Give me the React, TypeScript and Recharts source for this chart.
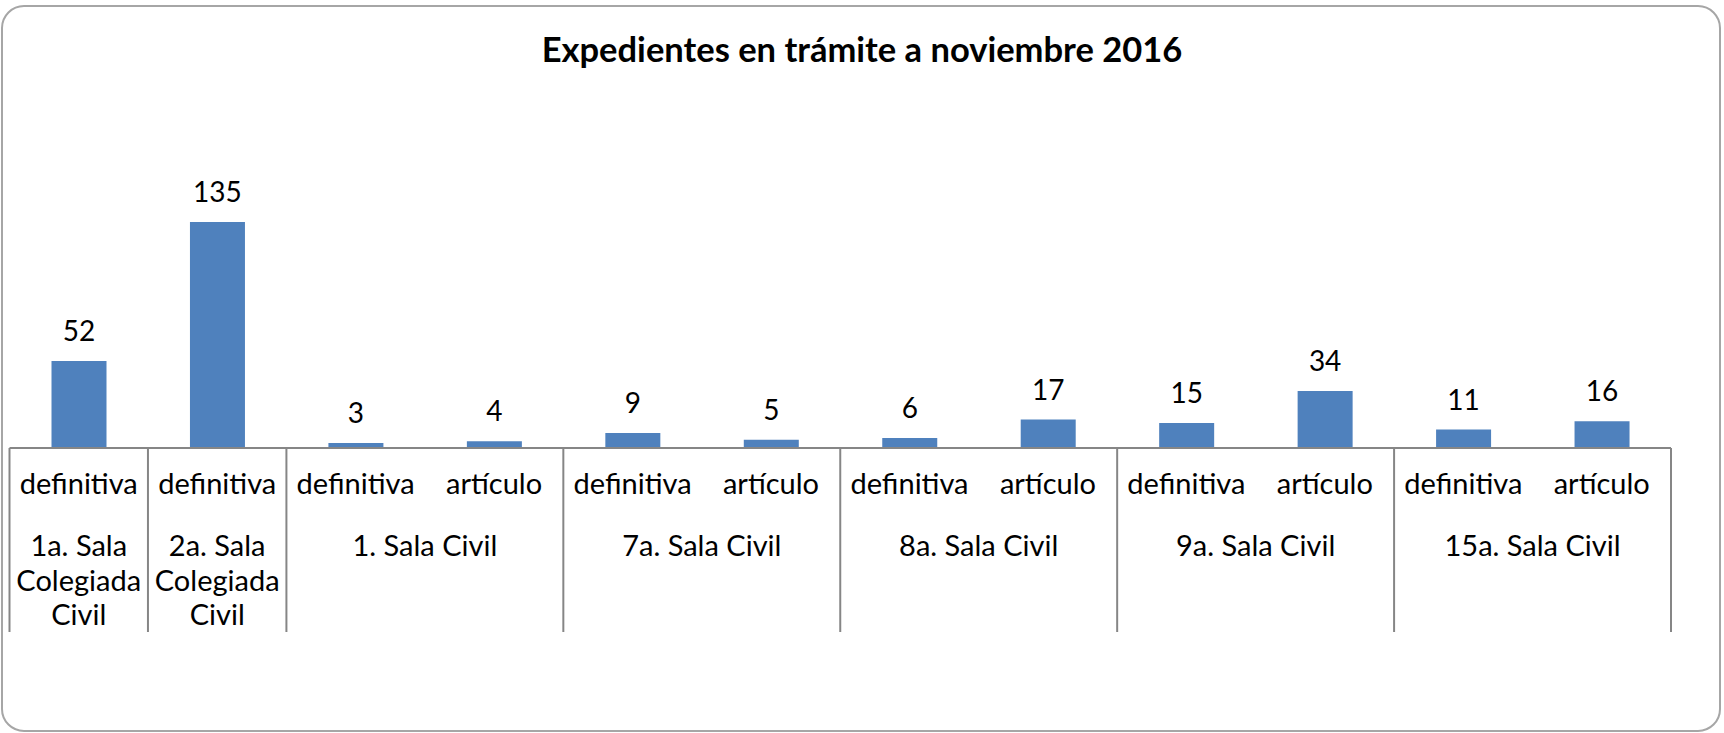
import React from 'react';
import { BarChart, Bar, XAxis, YAxis, LabelList } from 'recharts';

const subLabels = [
  'definitiva',
  'definitiva',
  'definitiva',
  'artículo',
  'definitiva',
  'artículo',
  'definitiva',
  'artículo',
  'definitiva',
  'artículo',
  'definitiva',
  'artículo',
];

const groupLabels = [
  '1a. Sala Colegiada Civil',
  '2a. Sala Colegiada Civil',
  '1. Sala Civil',
  '1. Sala Civil',
  '7a. Sala Civil',
  '7a. Sala Civil',
  '8a. Sala Civil',
  '8a. Sala Civil',
  '9a. Sala Civil',
  '9a. Sala Civil',
  '15a. Sala Civil',
  '15a. Sala Civil',
];

const values = [52, 135, 3, 4, 9, 5, 6, 17, 15, 34, 11, 16];

const TITLE = 'Expedientes en trámite a noviembre 2016';

const W = 1724;
const H = 733;
const MARGIN = { top: 180, right: 53, left: 9.5, bottom: 100 };
const AXIS_H = 185;
const STEP = (W - MARGIN.left - MARGIN.right) / values.length;
const FONT = 'Lato, "Open Sans", sans-serif';
const GRID = '#868686';
const LABEL_SIZE = 29;

const data = values.map((v, i) => ({ sub: subLabels[i], group: groupLabels[i], value: v }));

// split a label into lines that fit the given width (rough char-width estimate)
const wrap = (text: string, maxW: number, size: number) => {
  const words = text.split(' ');
  const lines: string[] = [];
  let cur = '';
  words.forEach((w) => {
    const next = cur ? cur + ' ' + w : w;
    if (next.length * size * 0.5 > maxW && cur) {
      lines.push(cur);
      cur = w;
    } else {
      cur = next;
    }
  });
  if (cur) lines.push(cur);
  return lines;
};

const CategoryTick = (props: any) => {
  const { x, y, index } = props;
  const group = groupLabels[index];
  const isStart = index === 0 || groupLabels[index - 1] !== group;
  const isLast = index === groupLabels.length - 1;
  let span = 1;
  while (index + span < groupLabels.length && groupLabels[index + span] === group) span++;
  const groupX = x + ((span - 1) * STEP) / 2;
  const lines = isStart ? wrap(group, span * STEP - 8, LABEL_SIZE) : [];
  return (
    <g>
      <text x={x} y={y + 46} textAnchor="middle" fontFamily={FONT} fontSize={LABEL_SIZE} fill="#000">
        {subLabels[index]}
      </text>
      {lines.map((ln, k) => (
        <text
          key={k}
          x={groupX}
          y={y + 108 + k * 34.5}
          textAnchor="middle"
          fontFamily={FONT}
          fontSize={LABEL_SIZE}
          fill="#000"
        >
          {ln}
        </text>
      ))}
      {isStart && (
        <line x1={x - STEP / 2} x2={x - STEP / 2} y1={y} y2={y + 184} stroke={GRID} strokeWidth={2} />
      )}
      {isLast && (
        <line x1={x + STEP / 2} x2={x + STEP / 2} y1={y} y2={y + 184} stroke={GRID} strokeWidth={2} />
      )}
    </g>
  );
};

export default function App() {
  return (
    <div style={{ position: 'absolute', left: 0, top: 0, width: W, height: H, background: '#fff' }}>
      <BarChart width={W} height={H} data={data} margin={MARGIN}>
        <XAxis
          dataKey="sub"
          height={AXIS_H}
          interval={0}
          tickSize={0}
          tickMargin={0}
          tickLine={false}
          axisLine={{ stroke: GRID, strokeWidth: 2 }}
          tick={<CategoryTick />}
        />
        <YAxis hide domain={[0, 160]} />
        <Bar dataKey="value" fill="#4F81BD" barSize={55} isAnimationActive={false}>
          <LabelList
            dataKey="value"
            position="top"
            offset={20}
            fill="#000"
            fontSize={28}
            fontFamily={FONT}
          />
        </Bar>
      </BarChart>
      <svg
        width={W}
        height={H}
        style={{ position: 'absolute', left: 0, top: 0, pointerEvents: 'none' }}
      >
        <rect x={2} y={6} width={1718} height={725} rx={22} ry={22} fill="none" stroke="#a6a6a6" strokeWidth={2} />
        <text x={862} y={62} textAnchor="middle" fontFamily={FONT} fontWeight="bold" fontSize={34.5} fill="#000">
          {TITLE}
        </text>
      </svg>
    </div>
  );
}
